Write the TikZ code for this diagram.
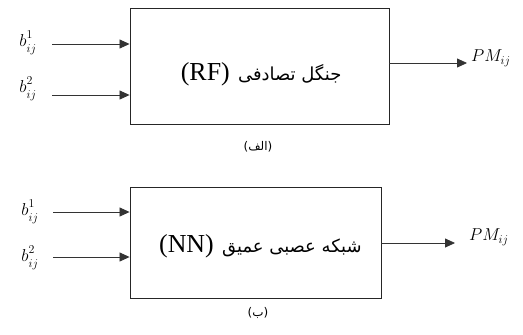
\documentclass[tikz,border=0pt]{standalone}
\usepackage{fontspec}
\setmainfont{Liberation Serif}
\newfontfamily\fa[Script=Arabic]{DejaVu Sans}
\newfontfamily\lat{Liberation Serif}
\TeXXeTstate=1
\usetikzlibrary{arrows.meta}
% index pair with the superscript lifted clear of the subscript
\newcommand{\bidx}[1]{b^{\raisebox{1.5bp}{$\scriptstyle #1$}}_{\raisebox{-1.5bp}{$\scriptstyle ij$}}}
\begin{document}
\begin{tikzpicture}[x=1bp,y=-1bp,
  block/.style={draw=black!85,line width=0.9bp,minimum width=#1,inner sep=0pt},
  arr/.style={draw=black!80,line width=0.8bp,-{Triangle[length=10bp,width=9bp]}},
  fatext/.style={font=\fa\fontsize{18}{20}\selectfont,inner sep=0pt,anchor=base west},
  latext/.style={font=\lat\fontsize{26}{28}\selectfont,inner sep=0pt,anchor=base east},
  sym/.style={font=\fontsize{18}{20}\selectfont,inner sep=0pt},
  subcap/.style={font=\fa\fontsize{12}{14}\selectfont,inner sep=0pt}]
\useasboundingbox (0,0) rectangle (523,334);

% upper block: random forest
\node[block=259bp,minimum height=116bp] (rf) at (259.5,66) {};
\coordinate (rfm) at (234,80);
\node[fatext] (rfa) at ([xshift=4bp]rfm) {\beginR جنگل تصادفی\endR};
\node[latext] (rfb) at ([xshift=-4bp]rfm) {(RF)};
\node[sym] (a1) at (28,43) {$\bidx{1}$};
\node[sym] (a2) at (28,89) {$\bidx{2}$};
\node[sym,anchor=west] (ao) at (471,58) {$PM_{ij}$};
\coordinate (ai1) at (52,44);
\coordinate (ai2) at (52,95);
\coordinate (aoe) at (467,63);
\draw[arr] (ai1) -- (ai1 -| rf.west);
\draw[arr] (ai2) -- (ai2 -| rf.west);
\draw[arr] (aoe -| rf.east) -- (aoe);
\node[subcap] (ca) at (258,147) {\beginR(الف)\endR};

% lower block: deep neural network
\node[block=251bp,minimum height=111bp] (nn) at (255.5,242.5) {};
\coordinate (nnm) at (218,252);
\node[fatext] (nna) at ([xshift=4bp]nnm) {\beginR شبکه عصبی عمیق\endR};
\node[latext] (nnb) at ([xshift=-4bp]nnm) {(NN)};
\node[sym] (b1) at (30,212) {$\bidx{1}$};
\node[sym] (b2) at (30,258) {$\bidx{2}$};
\node[sym,anchor=west] (bo) at (469,237) {$PM_{ij}$};
\coordinate (bi1) at (53,212);
\coordinate (bi2) at (53,257);
\coordinate (boe) at (455,243);
\draw[arr] (bi1) -- (bi1 -| nn.west);
\draw[arr] (bi2) -- (bi2 -| nn.west);
\draw[arr] (boe -| nn.east) -- (boe);
\node[subcap] (cb) at (258,313) {\beginR(ب)\endR};
\end{tikzpicture}
\end{document}
